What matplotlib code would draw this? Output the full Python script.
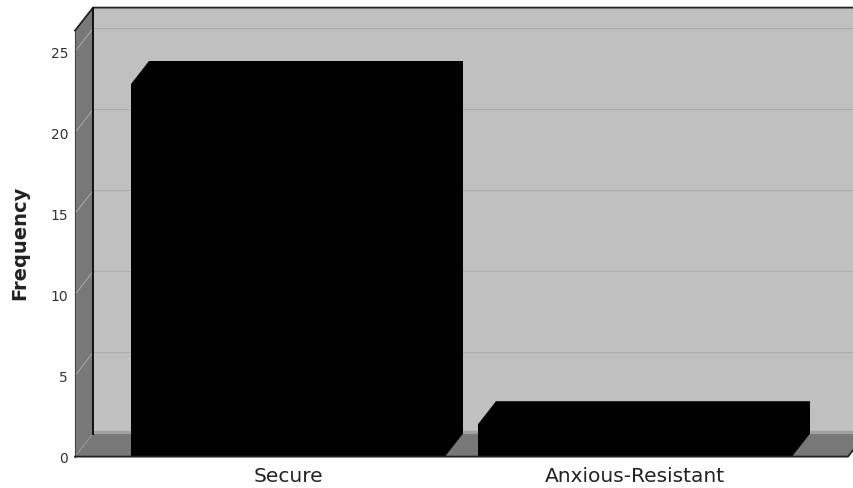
import matplotlib
matplotlib.use("Agg")
import matplotlib.pyplot as plt

kategorie = ["Secure", "Anxious-Resistant"]
czestosci = [23, 2]
podzialka_y = [0, 5, 10, 15, 20, 25]

# pseudo 3D depth of the box, in data units
PX_NA_KATEGORIE = 347.0
PX_NA_JEDNOSTKE = 16.2
glebokosc_x = 18 / PX_NA_KATEGORIE
glebokosc_y = 23 / PX_NA_JEDNOSTKE
szerokosc = 314 / PX_NA_KATEGORIE

W, H = 854, 489
fig = plt.figure(figsize=(W / 100, H / 100), dpi=100, facecolor="white")

# axes rectangle is the front plane of the box
lewo, prawo, dol, gora = 75, 848, 457.6, 31.6
ax = fig.add_axes([lewo / W, 1 - dol / H, (prawo - lewo) / W, (dol - gora) / H])
ax.set_facecolor("none")
x_min = -(288 - lewo) / PX_NA_KATEGORIE
x_max = x_min + (prawo - lewo) / PX_NA_KATEGORIE
y_max = (dol - gora) / PX_NA_JEDNOSTKE
ax.set_xlim(x_min, x_max)
ax.set_ylim(0, y_max)

dx, dy = glebokosc_x, glebokosc_y

# back wall
ax.fill([x_min + dx, x_max + dx, x_max + dx, x_min + dx],
        [dy, dy, y_max + dy, y_max + dy],
        color="#c0c0c0", lw=0, clip_on=False, zorder=1)
# left wall and floor
ax.fill([x_min, x_min + dx, x_min + dx, x_min],
        [0, dy, y_max + dy, y_max],
        color="#787878", lw=0, clip_on=False, zorder=2)
ax.fill([x_min, x_max, x_max + dx, x_min + dx],
        [0, 0, dy, dy],
        color="#787878", lw=0, clip_on=False, zorder=2)

# gridlines run along the back wall and down the left wall
for v in podzialka_y:
    if v == 0:
        ax.plot([x_min, x_min + dx], [0, dy], color="#9a9a9a", lw=0.6,
                clip_on=False, zorder=3)
        ax.plot([x_min + dx, x_max + dx], [dy + 0.1, dy + 0.1], color="#a0a0a0",
                lw=1.6, clip_on=False, zorder=3)
        continue
    ax.plot([x_min, x_min + dx, x_max + dx], [v, v + dy, v + dy],
            color="#aaaaaa", lw=0.7, clip_on=False, zorder=3)

# box outline
ax.plot([x_min, x_min + dx, x_max + dx], [y_max, y_max + dy, y_max + dy],
        color="#222222", lw=1.3, clip_on=False, zorder=4)
ax.plot([x_min + dx, x_min + dx], [dy, y_max + dy], color="#111111", lw=1.4,
        clip_on=False, zorder=4)
ax.plot([x_min, x_min], [0, y_max], color="#444444", lw=0.8, clip_on=False, zorder=4)
ax.plot([x_min, x_max, x_max + dx], [0, 0, dy], color="#222222", lw=1.3,
        clip_on=False, zorder=7)

# bars: one silhouette of front, top and side faces
pozycje = list(range(len(kategorie)))
for p, c in zip(pozycje, czestosci):
    l = p - szerokosc / 2
    r = p + szerokosc / 2
    ax.fill([l, l, l + dx, r + dx, r + dx, r],
            [0, c, c + dy, c + dy, dy, 0],
            color="black", lw=0, clip_on=False, zorder=5)

for s in ax.spines.values():
    s.set_visible(False)

ax.set_xticks(pozycje)
ax.set_xticklabels(kategorie, fontsize=14.5, color="#222222")
ax.set_yticks(podzialka_y)
ax.set_yticklabels([str(v) for v in podzialka_y], fontsize=10, color="#333333")
ax.tick_params(axis="both", length=0)
ax.tick_params(axis="x", pad=6.5)
ax.tick_params(axis="y", pad=5)

fig.text(20 / W, 1 - 243 / H, "Frequency", rotation=90, fontsize=14,
         fontweight="bold", color="#222222", ha="center", va="center")

fig.savefig("out.png", dpi=100)
